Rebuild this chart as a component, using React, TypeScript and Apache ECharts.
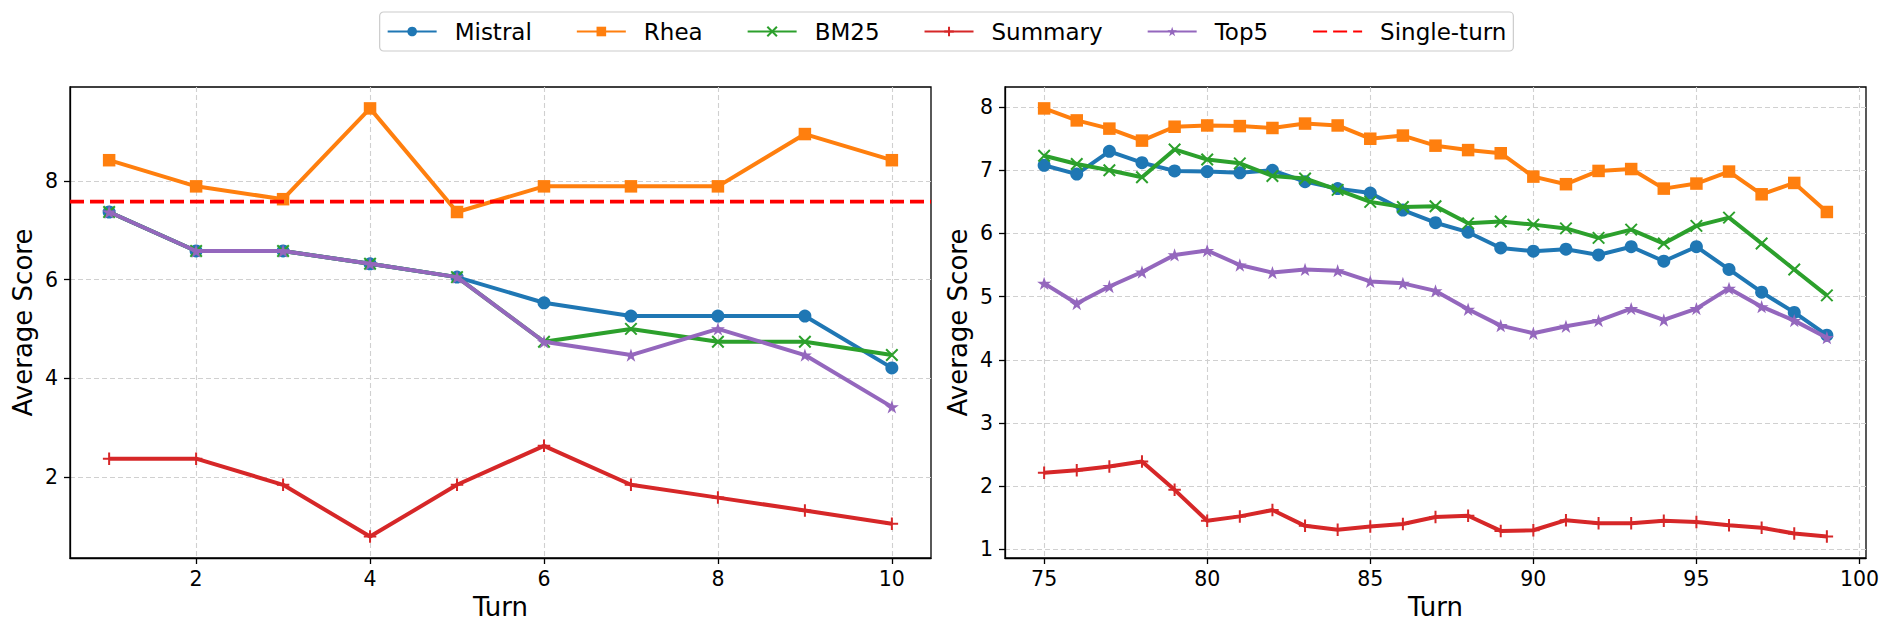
import React, { useEffect, useRef } from "react";
import * as echarts from "echarts";

// ---------- data ----------
const seriesNames = ["Mistral", "Rhea", "BM25", "Summary", "Top5"];
const singleTurnName = "Single-turn";

const turnsEarly = [1, 2, 3, 4, 5, 6, 7, 8, 9, 10];
const mistralEarly = [7.37, 6.58, 6.58, 6.32, 6.05, 5.53, 5.26, 5.26, 5.26, 4.21];
const rheaEarly = [8.42, 7.89, 7.63, 9.47, 7.37, 7.89, 7.89, 7.89, 8.95, 8.42];
const bm25Early = [7.37, 6.58, 6.58, 6.32, 6.05, 4.74, 5.0, 4.74, 4.74, 4.47];
const summaryEarly = [2.37, 2.37, 1.84, 0.79, 1.84, 2.63, 1.84, 1.58, 1.32, 1.05];
const top5Early = [7.37, 6.58, 6.58, 6.32, 6.05, 4.74, 4.47, 5.0, 4.47, 3.42];
const singleTurnScore = 7.58;

const turnsLate = [75, 76, 77, 78, 79, 80, 81, 82, 83, 84, 85, 86, 87, 88, 89, 90, 91, 92, 93, 94, 95, 96, 97, 98, 99];
const mistralLate = [7.08, 6.94, 7.3, 7.12, 6.99, 6.98, 6.96, 7.0, 6.82, 6.71, 6.64, 6.37, 6.17, 6.02, 5.77, 5.72, 5.75, 5.66, 5.79, 5.56, 5.79, 5.43, 5.07, 4.75, 4.39];
const rheaLate = [7.98, 7.79, 7.66, 7.47, 7.69, 7.71, 7.7, 7.67, 7.74, 7.71, 7.5, 7.55, 7.39, 7.32, 7.27, 6.9, 6.78, 6.99, 7.02, 6.71, 6.79, 6.98, 6.62, 6.8, 6.34];
const bm25Late = [7.23, 7.1, 7.0, 6.89, 7.33, 7.17, 7.11, 6.91, 6.87, 6.69, 6.5, 6.42, 6.43, 6.16, 6.19, 6.14, 6.08, 5.93, 6.06, 5.84, 6.12, 6.25, 5.84, 5.43, 5.02];
const summaryLate = [2.21, 2.25, 2.31, 2.39, 1.94, 1.45, 1.52, 1.62, 1.37, 1.31, 1.36, 1.4, 1.51, 1.53, 1.29, 1.3, 1.46, 1.41, 1.41, 1.45, 1.43, 1.38, 1.34, 1.25, 1.2];
const top5Late = [5.21, 4.89, 5.16, 5.39, 5.66, 5.73, 5.5, 5.38, 5.43, 5.41, 5.24, 5.21, 5.09, 4.8, 4.54, 4.42, 4.53, 4.62, 4.81, 4.63, 4.81, 5.13, 4.84, 4.62, 4.35];

const xTicksEarly = [2, 4, 6, 8, 10];
const yTicksEarly = [2, 4, 6, 8];
const xTicksLate = [75, 80, 85, 90, 95, 100];
const yTicksLate = [1, 2, 3, 4, 5, 6, 7, 8];

// ---------- styling ----------
const COLORS = ["#1f77b4", "#ff7f0e", "#2ca02c", "#d62728", "#9467bd"];
const FONT = "DejaVu Sans";
const STAR =
  "path://M50,0 L61.23,34.55 L97.55,34.55 L68.17,55.9 L79.39,90.45 L50,69.1 L20.61,90.45 L31.83,55.9 L2.45,34.55 L38.77,34.55 Z";
const XMARK = "path://M0,0 L10,10 M10,0 L0,10";
const PLUS = "path://M5,0 L5,10 M0,5 L10,5";
const LINE_W = 4;

const markerFor = (i: number) => {
  switch (i) {
    case 0:
      return { symbol: "circle", symbolSize: 13, itemStyle: { color: COLORS[0] } };
    case 1:
      return { symbol: "rect", symbolSize: 12.5, itemStyle: { color: COLORS[1] } };
    case 2:
      return {
        symbol: XMARK,
        symbolSize: 11.5,
        itemStyle: { color: COLORS[2], borderColor: COLORS[2], borderWidth: 2 },
      };
    case 3:
      return {
        symbol: PLUS,
        symbolSize: 12.5,
        itemStyle: { color: COLORS[3], borderColor: COLORS[3], borderWidth: 2 },
      };
    default:
      return { symbol: STAR, symbolSize: 14, symbolKeepAspect: true, itemStyle: { color: COLORS[4] } };
  }
};

const padRange = (arrays: number[][], frac = 0.05): [number, number] => {
  const all = arrays.flat();
  const mn = Math.min(...all);
  const mx = Math.max(...all);
  const d = mx - mn;
  return [mn - d * frac, mx + d * frac];
};

export default function App() {
  const ref = useRef<HTMLDivElement>(null);

  useEffect(() => {
    if (!ref.current) return;
    const chart = echarts.init(ref.current, undefined, { renderer: "svg" });

    const earlyVals = [mistralEarly, rheaEarly, bm25Early, summaryEarly, top5Early];
    const lateVals = [mistralLate, rheaLate, bm25Late, summaryLate, top5Late];

    const [xMinE, xMaxE] = padRange([turnsEarly]);
    const [yMinE, yMaxE] = padRange(earlyVals);
    const [xMinL, xMaxL] = padRange([turnsLate]);
    const [yMinL, yMaxL] = padRange(lateVals);

    const splitLine = {
      show: true,
      lineStyle: { color: "#d0d0d0", width: 1.1, type: [5, 3] as any },
    };
    const axisCommon = {
      type: "value" as const,
      axisLine: { show: true, onZero: false, lineStyle: { color: "#000", width: 1.3 } },
      axisTick: { show: true, length: 6, lineStyle: { color: "#000", width: 1.3 } },
      splitLine,
      nameLocation: "middle" as const,
      nameTextStyle: { fontSize: 26, color: "#000", fontFamily: FONT },
    };
    const labelStyle = { fontSize: 20.5, color: "#000", fontFamily: FONT };

    const xAxis = [
      {
        ...axisCommon,
        gridIndex: 0,
        min: xMinE,
        max: xMaxE,
        name: "Turn",
        nameGap: 36,
        axisTick: { ...axisCommon.axisTick, customValues: xTicksEarly },
        axisLabel: { ...labelStyle, margin: 10, customValues: xTicksEarly },
      },
      {
        ...axisCommon,
        gridIndex: 1,
        min: xMinL,
        max: xMaxL,
        name: "Turn",
        nameGap: 36,
        axisTick: { ...axisCommon.axisTick, customValues: xTicksLate },
        axisLabel: { ...labelStyle, margin: 10, customValues: xTicksLate },
      },
    ];
    const yAxis = [
      {
        ...axisCommon,
        gridIndex: 0,
        min: yMinE,
        max: yMaxE,
        name: "Average Score",
        nameGap: 34,
        axisTick: { ...axisCommon.axisTick, customValues: yTicksEarly },
        axisLabel: { ...labelStyle, margin: 12, customValues: yTicksEarly },
      },
      {
        ...axisCommon,
        gridIndex: 1,
        min: yMinL,
        max: yMaxL,
        name: "Average Score",
        nameGap: 34,
        axisTick: { ...axisCommon.axisTick, customValues: yTicksLate },
        axisLabel: { ...labelStyle, margin: 12, customValues: yTicksLate },
      },
    ];

    const series: any[] = [];
    seriesNames.forEach((name, i) => {
      series.push({
        type: "line",
        name,
        xAxisIndex: 0,
        yAxisIndex: 0,
        data: turnsEarly.map((t, k) => [t, earlyVals[i][k]]),
        color: COLORS[i],
        lineStyle: { color: COLORS[i], width: LINE_W },
        z: 2 + i,
        ...markerFor(i),
      });
    });
    series.push({
      type: "line",
      name: singleTurnName,
      xAxisIndex: 0,
      yAxisIndex: 0,
      data: [
        [xMinE, singleTurnScore],
        [xMaxE, singleTurnScore],
      ],
      showSymbol: false,
      symbol: "circle",
      symbolSize: 0,
      lineStyle: { color: "#ff0000", width: 3.6, type: [14, 6] },
      itemStyle: { color: "rgba(0,0,0,0)", borderWidth: 0 },
      z: 8,
    });
    seriesNames.forEach((name, i) => {
      series.push({
        type: "line",
        name,
        xAxisIndex: 1,
        yAxisIndex: 1,
        data: turnsLate.map((t, k) => [t, lateVals[i][k]]),
        color: COLORS[i],
        lineStyle: { color: COLORS[i], width: LINE_W },
        z: 2 + i,
        ...markerFor(i),
      });
    });

    chart.setOption({
      animation: false,
      backgroundColor: "#fff",
      textStyle: { fontFamily: FONT },
      legend: {
        data: [...seriesNames, singleTurnName],
        top: 12,
        left: "center",
        orient: "horizontal",
        itemWidth: 49,
        itemHeight: 12,
        itemGap: 44,
        padding: [8, 7],
        borderColor: "#cccccc",
        borderWidth: 1.2,
        borderRadius: 4,
        backgroundColor: "#fff",
        textStyle: { fontSize: 23, color: "#000", fontFamily: FONT, padding: [0, 0, 0, 13] },
      },
      grid: [
        {
          left: 70,
          top: 87,
          width: 861,
          height: 471,
          show: true,
          borderColor: "#000",
          borderWidth: 1.3,
          backgroundColor: "transparent",
        },
        {
          left: 1005,
          top: 87,
          width: 861,
          height: 471,
          show: true,
          borderColor: "#000",
          borderWidth: 1.3,
          backgroundColor: "transparent",
        },
      ],
      xAxis,
      yAxis,
      series,
    });

    return () => chart.dispose();
  }, []);

  return (
    <div
      ref={ref}
      style={{ position: "fixed", left: 0, top: 0, width: 1893, height: 636, background: "#fff" }}
    />
  );
}
